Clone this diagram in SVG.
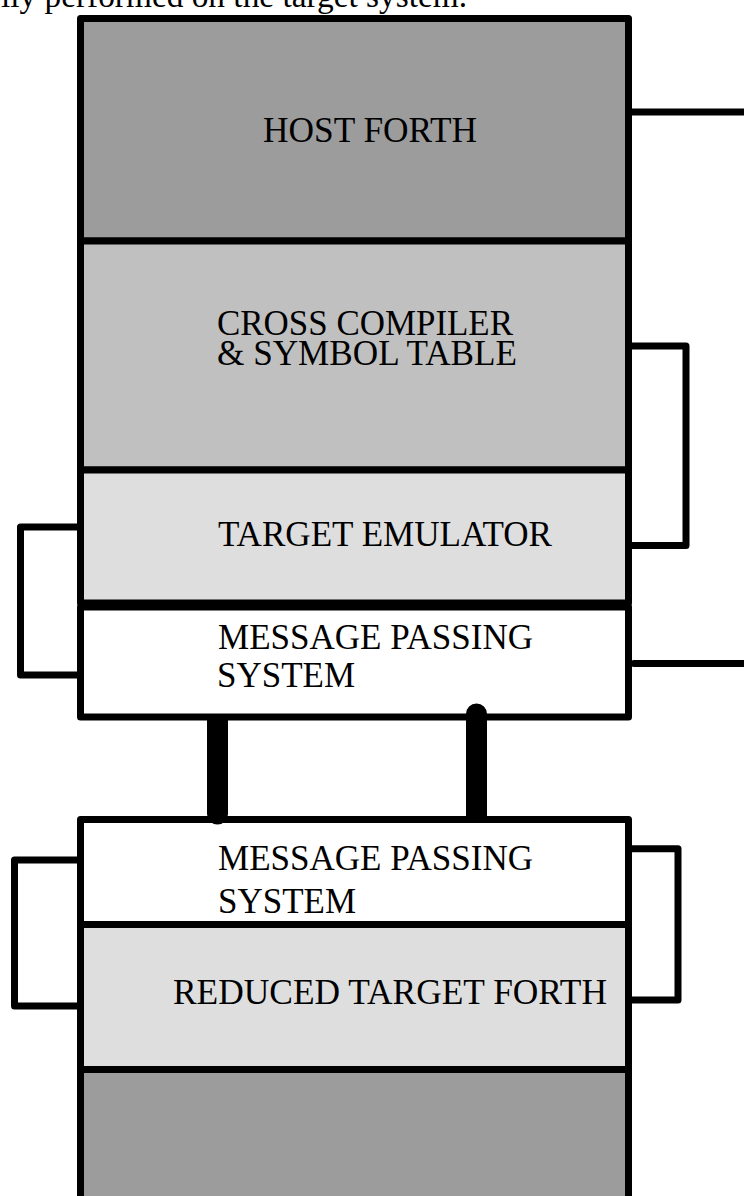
<svg xmlns="http://www.w3.org/2000/svg" width="744" height="1196" viewBox="0 0 744 1196">
<style>
.box{stroke:#000;stroke-width:7;stroke-linejoin:round}
.dark{fill:#9c9c9c}
.mid{fill:#c0c0c0}
.light{fill:#dedede}
.white{fill:#fff}
.t{font-family:"Liberation Serif","Times New Roman",serif;font-size:35px;fill:#000}
.conn{fill:none;stroke:#000;stroke-width:7;stroke-linejoin:round}
</style>
<rect width="744" height="1196" fill="#fff"/>
<text x="1" y="7" textLength="466" lengthAdjust="spacingAndGlyphs" style="font-family:'Liberation Serif','Times New Roman',serif;font-size:33px;fill:#000">ily performed on the target system.</text>
<g id="host-forth">
<rect class="box dark" x="80.5" y="18.5" width="548" height="222.5"/>
<text class="t" x="263" y="141.5" textLength="214" lengthAdjust="spacingAndGlyphs">HOST FORTH</text>
</g>
<g id="cross-compiler">
<rect class="box mid" x="80.5" y="241" width="548" height="229"/>
<text class="t" x="217" y="335" textLength="296" lengthAdjust="spacingAndGlyphs">CROSS COMPILER</text>
<text class="t" x="217" y="365" textLength="300" lengthAdjust="spacingAndGlyphs">&amp; SYMBOL TABLE</text>
</g>
<g id="target-emulator">
<rect class="box light" x="80.5" y="470" width="548" height="133"/>
<text class="t" x="218" y="546" textLength="334" lengthAdjust="spacingAndGlyphs">TARGET EMULATOR</text>
</g>
<g id="host-message-passing">
<rect class="box white" x="80.5" y="607" width="548" height="110"/>
<text class="t" x="218" y="649" textLength="315" lengthAdjust="spacingAndGlyphs">MESSAGE PASSING</text>
<text class="t" x="217" y="687" textLength="138" lengthAdjust="spacingAndGlyphs">SYSTEM</text>
</g>
<g id="target-message-passing">
<rect class="box white" x="80.5" y="819.5" width="548" height="105"/>
<text class="t" x="218" y="870" textLength="315" lengthAdjust="spacingAndGlyphs">MESSAGE PASSING</text>
<text class="t" x="218" y="913" textLength="138" lengthAdjust="spacingAndGlyphs">SYSTEM</text>
</g>
<g id="reduced-target-forth">
<rect class="box light" x="80.5" y="924.5" width="548" height="145"/>
<text class="t" x="173" y="1004" textLength="434" lengthAdjust="spacingAndGlyphs">REDUCED TARGET FORTH</text>
</g>
<g id="target-hardware">
<rect class="box dark" x="80.5" y="1069.5" width="548" height="140"/>
</g>
<g id="connectors">
<path class="conn" d="M628,112 H744"/>
<path class="conn" d="M628,346 H686 V545.5 H628"/>
<path class="conn" d="M80,527 H20.5 V675 H80"/>
<path class="conn" d="M634,663.5 H744" stroke-linecap="round"/>
<path d="M207,720 V814 A10.5,10.5 0 0 0 228,814 V720 Z" fill="#000"/>
<path d="M466,816 V714 A10.5,10.5 0 0 1 487,714 V816 Z" fill="#000"/>
<path class="conn" d="M80,860 H14.5 V1006 H80"/>
<path class="conn" d="M628,848.7 H678 V1000 H628"/>
</g>
</svg>
